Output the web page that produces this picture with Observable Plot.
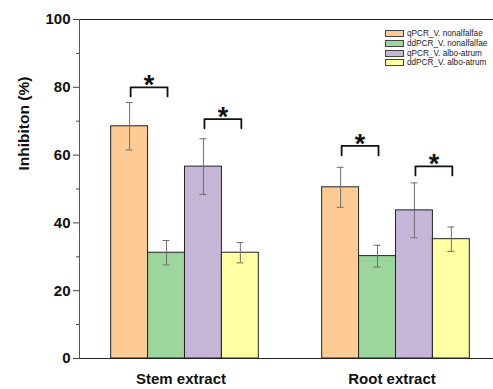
<!DOCTYPE html>
<html><head><meta charset="utf-8">
<script src="https://cdn.jsdelivr.net/npm/d3@7"></script>
<script src="https://cdn.jsdelivr.net/npm/@observablehq/plot@0.6"></script>
<style>
body{margin:0;background:#fff;}
#wrap{position:relative;width:493px;height:389px;font-family:"Liberation Sans",Arial,sans-serif;}
#legend{position:absolute;left:385px;top:29px;font-size:8.2px;color:#222;}
.row{display:flex;align-items:center;height:9.7px;white-space:nowrap}
.sw{width:19px;height:7px;border:1px solid #444;margin-right:3px;box-sizing:border-box}
</style></head><body><div id="wrap"><div id="legend"></div></div>
<script>
const groups = ["Stem extract", "Root extract"];
const series = ["qPCR_V. nonalfalfae", "ddPCR_V. nonalfalfae", "qPCR_V. albo-atrum", "ddPCR_V. albo-atrum"];
const colors = ["#fecb95", "#9dd69c", "#c5b5d6", "#ffffa3"];
const stemValues = [68.5, 31.2, 56.6, 31.2];
const stemErrors = [7.0, 3.6, 8.2, 3.0];
const rootValues = [50.5, 30.2, 43.7, 35.2];
const rootErrors = [5.9, 3.2, 8.1, 3.6];
const yTicks = [0, 20, 40, 60, 80, 100];
const yMinorTicks = [10, 30, 50, 70, 90];
const bracketGroup = ["Stem extract", "Stem extract", "Root extract", "Root extract"];
const bracketFrom = [series[0], series[2], series[0], series[2]];
const bracketTo = [series[1], series[3], series[1], series[3]];
const bracketTop = [80.0, 70.6, 62.7, 56.7];
const bracketLeg = [77.3, 67.9, 59.9, 54.0];
const yLabel = "Inhibiton (%)";

const rows = [];
series.forEach((s, i) => {
  rows.push({group: groups[0], series: s, value: stemValues[i], error: stemErrors[i]});
  rows.push({group: groups[1], series: s, value: rootValues[i], error: rootErrors[i]});
});
const brackets = bracketGroup.map((g, i) => ({group: g, from: bracketFrom[i], to: bracketTo[i], top: bracketTop[i], leg: bracketLeg[i]}));
const bracketPts = brackets.flatMap((b, i) => [
  {id: i, group: b.group, x: b.from, y: b.leg},
  {id: i, group: b.group, x: b.from, y: b.top},
  {id: i, group: b.group, x: b.to, y: b.top},
  {id: i, group: b.group, x: b.to, y: b.leg}
]);
const font = "Liberation Sans, Arial, sans-serif";

const chart = Plot.plot({
  width: 493,
  height: 389,
  marginTop: 19,
  marginBottom: 31,
  marginLeft: 79,
  marginRight: 0,
  style: {fontFamily: font, background: "white", color: "#111"},
  fx: {domain: groups, paddingInner: 0.0379, paddingOuter: 0, round: false},
  x: {domain: series, paddingInner: 0, paddingOuter: 0.75, align: 0.572, round: false, axis: null},
  y: {domain: [0, 100]},
  color: {domain: series, range: colors},
  marks: [
    Plot.barY(rows, {fx: "group", x: "series", y: "value", fill: "series", stroke: "#222", strokeWidth: 1}),
    Plot.ruleX(rows, {fx: "group", x: "series", y1: d => d.value - d.error, y2: d => d.value + d.error, stroke: "#6e6e6e", strokeWidth: 1}),
    Plot.tickY(rows, {fx: "group", x: "series", y: d => d.value + d.error, stroke: "#6e6e6e", insetLeft: 15, insetRight: 15}),
    Plot.tickY(rows, {fx: "group", x: "series", y: d => d.value - d.error, stroke: "#6e6e6e", insetLeft: 15, insetRight: 15}),
    Plot.line(bracketPts, {fx: "group", x: "x", y: "y", z: "id", stroke: "#111", strokeWidth: 1.8, dx: 1}),
    Plot.text(brackets, {fx: "group", x: "from", y: "top", text: () => "*", dx: 19.5, dy: 7, lineAnchor: "bottom", fontSize: 27, fontWeight: "bold", fill: "#111"}),
    Plot.ruleY([0, 100], {stroke: "#222", insetRight: -10}),
    Plot.frame({anchor: "left", facetAnchor: "left", stroke: "#555"}),
    Plot.axisY({ticks: yTicks, tickSize: 6, tickPadding: 3, fontSize: 15, fontWeight: "bold", label: null, stroke: "#444", fill: "#111"}),
    Plot.axisY({ticks: yMinorTicks, tickSize: 3, fill: "none", label: null, stroke: "#444"}),
    Plot.axisFx({anchor: "bottom", tickSize: 0, tickPadding: 15, fontSize: 15, fontWeight: "bold", label: null, fill: "#111"}),
    Plot.text([{g: groups[0], t: yLabel}], {fx: "g", text: "t", frameAnchor: "left", rotate: -90, dx: -55, dy: -18.5, fontSize: 15.5, fontWeight: "bold", fill: "#111"})
  ]
});
const wrap = document.getElementById("wrap");
wrap.insertBefore(chart, wrap.firstChild);

const legend = document.getElementById("legend");
series.forEach((s, i) => {
  const r = document.createElement("div");
  r.className = "row";
  const sw = document.createElement("span");
  sw.className = "sw";
  sw.style.background = colors[i];
  const t = document.createElement("span");
  t.textContent = s;
  r.appendChild(sw); r.appendChild(t);
  legend.appendChild(r);
});
</script>
</body></html>
